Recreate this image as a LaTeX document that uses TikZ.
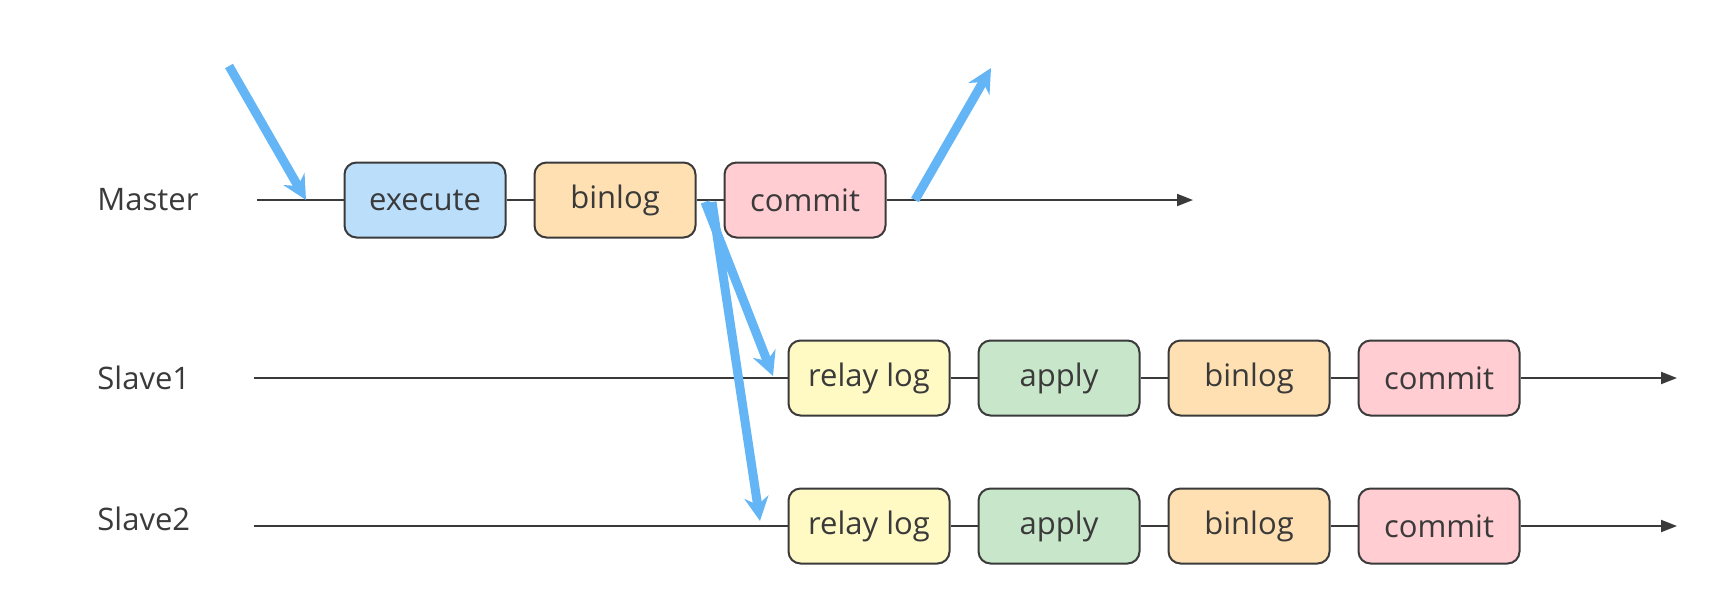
\documentclass[tikz,border=0pt]{standalone}
\usepackage{fontspec}
\setmainfont{Open Sans}
\usepackage{xcolor}
\usepackage{tikz}
\usetikzlibrary{arrows.meta,positioning}

\definecolor{inkgray}{HTML}{3A3A3A}
\definecolor{flowblue}{HTML}{64B5F6}
\definecolor{execfill}{HTML}{BBDEFB}
\definecolor{logfill}{HTML}{FFE0B2}
\definecolor{commitfill}{HTML}{FFCDD2}
\definecolor{relayfill}{HTML}{FFF9C4}
\definecolor{applyfill}{HTML}{C8E6C9}

\tikzset{
  stage/.style={draw=inkgray,line width=1pt,rounded corners=6pt,minimum width=80.5pt,minimum height=37.5pt,inner sep=0pt,text=inkgray,font=\fontsize{15.5}{18}\selectfont},
  role/.style={anchor=west,inner sep=0pt,text=inkgray,font=\fontsize{15.5}{18}\selectfont},
  timeline/.style={draw=inkgray,line width=1pt},
  push/.style={draw=flowblue,line width=4.5pt,-{Stealth[length=12pt,width=12pt]}}
}

\begin{document}
\begin{tikzpicture}[x=0.5pt,y=-0.5pt]
\useasboundingbox (0,0) rectangle (1732,612);
% roles
\node[role] (master) at (97,200) {Master};
\node[role] (slave1) at (97,378) {Slave1};
\node[role] (slave2) at (97,519) {Slave2};
% master
\node[stage,fill=execfill] (mexec) at (425,200) {execute};
\node[stage,fill=logfill,right=13.5pt of mexec] (mlog) {binlog};
\node[stage,fill=commitfill,right=13.5pt of mlog] (mcommit) {commit};
% slave1
\node[stage,fill=relayfill] (arelay) at (869,378) {relay log};
\node[stage,fill=applyfill,right=13.5pt of arelay] (aapply) {apply};
\node[stage,fill=logfill,right=13.5pt of aapply] (alog) {binlog};
\node[stage,fill=commitfill,right=13.5pt of alog] (acommit) {commit};
% slave2
\node[stage,fill=relayfill] (brelay) at (869,526) {relay log};
\node[stage,fill=applyfill,right=13.5pt of brelay] (bapply) {apply};
\node[stage,fill=logfill,right=13.5pt of bapply] (blog) {binlog};
\node[stage,fill=commitfill,right=13.5pt of blog] (bcommit) {commit};
% line ends
\coordinate (mstart) at (257,200);
\coordinate (mend) at (1193,200);
\coordinate (astart) at (254,378);
\coordinate (aend) at (1677,378);
\coordinate (bstart) at (254,526);
\coordinate (bend) at (1677,526);
% time lines
\draw[timeline] (mstart) -- (mexec) (mexec) -- (mlog) (mlog) -- (mcommit);
\draw[timeline,-{Triangle[length=8pt,width=6pt]}] (mcommit) -- (mend);
\draw[timeline] (astart) -- (arelay) (arelay) -- (aapply) (aapply) -- (alog) (alog) -- (acommit);
\draw[timeline,-{Triangle[length=8pt,width=6pt]}] (acommit) -- (aend);
\draw[timeline] (bstart) -- (brelay) (brelay) -- (bapply) (bapply) -- (blog) (blog) -- (bcommit);
\draw[timeline,-{Triangle[length=8pt,width=6pt]}] (bcommit) -- (bend);
% blue flow
\coordinate (reqin) at (229,66);
\coordinate (reqhit) at (306,200);
\coordinate (ackfrom) at (915,200);
\coordinate (ackout) at (991,68);
\coordinate (senda) at (705,202);
\coordinate (gota) at (773,376);
\coordinate (sendb) at (712,202);
\coordinate (gotb) at (760,521);
\draw[push] (reqin) -- (reqhit);
\draw[push] (ackfrom) -- (ackout);
\draw[push] (senda) -- (gota);
\draw[push] (sendb) -- (gotb);
\end{tikzpicture}
\end{document}
